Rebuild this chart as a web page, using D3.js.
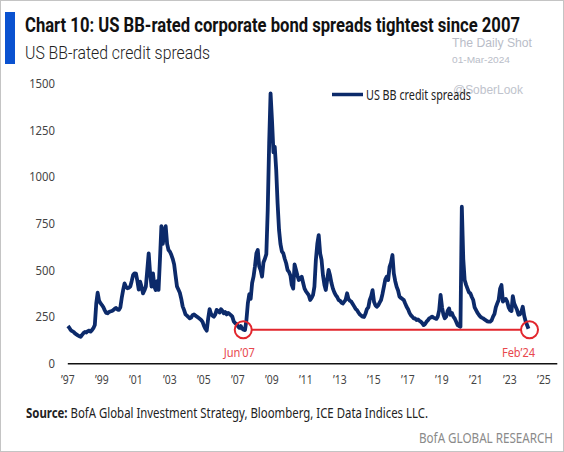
<!DOCTYPE html>
<html><head><meta charset="utf-8">
<script src="https://cdn.jsdelivr.net/npm/d3@7"></script>
<style>body{margin:0;background:#fff;} svg{display:block;}</style>
</head><body>
<svg id="c" width="564" height="452"></svg>
<script>
// ---- data (monthly, mid-month, bp) ----
const startYear = 1997;
const spreads = [
  200,190,178,172,168,160,155,150,145,142,152,162,   // 1997
  168,165,172,175,170,178,188,205,320,378,335,322,   // 1998
  312,300,285,270,268,275,278,280,285,292,296,288,   // 1999
  286,300,350,393,428,410,402,405,411,440,473,482,   // 2000
  480,440,395,437,410,375,390,411,500,589,482,411,   // 2001
  482,410,393,440,393,560,735,640,700,735,640,607,   // 2002
  598,580,560,530,470,412,395,378,345,305,285,262,   // 2003
  255,248,241,245,258,262,255,250,245,238,232,222,   // 2004
  200,185,175,240,290,265,255,250,262,286,280,272,   // 2005
  290,280,268,275,262,270,265,258,250,225,215,210,   // 2006
  198,190,200,185,180,178,230,321,370,345,430,464,   // 2007
  520,590,607,520,500,464,540,560,585,821,1180,1446, // 2008
  1300,1130,1160,1036,857,714,640,600,589,560,536,500, // 2009
  490,470,420,400,530,500,470,446,455,464,430,400,   // 2010
  385,375,365,339,350,366,411,554,640,687,589,554,   // 2011
  470,420,393,450,500,470,430,400,380,365,355,339,   // 2012
  335,325,320,330,340,375,345,335,330,318,305,292,   // 2013
  285,272,262,255,250,248,265,290,300,340,360,392,   // 2014
  330,310,303,310,325,339,370,410,450,464,446,517,   // 2015
  540,580,482,440,410,390,357,350,345,339,320,303,   // 2016
  290,270,258,250,241,240,232,235,228,223,215,205,   // 2017
  210,223,230,241,245,250,245,241,238,250,285,366,   // 2018
  300,260,241,250,280,294,260,270,250,240,223,205,   // 2019
  200,196,839,560,446,420,400,380,375,355,339,300,   // 2020
  285,270,260,250,245,241,235,230,225,223,223,230,   // 2021
  250,265,300,321,339,400,419,330,340,345,330,300,   // 2022
  285,280,360,320,303,285,260,262,276,303,255,225,   // 2023
  205,185                                            // 2024
];
const yTicks = [0,250,500,750,1000,1250,1500];
const xTickYears = [1997,1999,2001,2003,2005,2007,2009,2011,2013,2015,2017,2019,2021,2023,2025];
const markerDates = ["2007-05-08","2024-03-08"];
const markerLabels = ["Jun\u201907","Feb\u201924"];
const tightestLevel = 180;
const seriesName = "US BB credit spreads";

// ---- chart ----
const svg = d3.select("#c");
const W = 564, H = 452;
const NAVY = "#0c2a6a", RED = "#e2262d";

svg.append("rect").attr("x",0.5).attr("y",0.5).attr("width",W-1).attr("height",H-1)
  .attr("fill","#fff").attr("stroke","#c4c4c4");

const x = d3.scaleTime().domain([new Date(1997,0,1), new Date(2025,9,15)]).range([67.3, 556.8]);
const y = d3.scaleLinear().domain([0,1500]).range([363.3, 83.3]);

function condense(sel, f){
  sel.each(function(){
    const n = this.getComputedTextLength();
    d3.select(this).attr("textLength", n*f).attr("lengthAdjust","spacingAndGlyphs");
  });
}
function fitTo(sel, w){
  sel.attr("textLength", w).attr("lengthAdjust","spacingAndGlyphs");
}

// title bar
svg.append("rect").attr("x",5).attr("y",12).attr("width",10).attr("height",52).attr("fill","#0a52d0");
svg.append("text").attr("x",25).attr("y",32.3)
  .style("font-family","Roboto, 'Noto Sans', sans-serif").style("font-weight",700).style("font-size","19.5px")
  .attr("fill","#111").text("Chart 10: US BB-rated corporate bond spreads tightest since 2007")
  .call(fitTo, 495);
svg.append("text").attr("x",25).attr("y",59.4)
  .style("font-family","Roboto, 'Noto Sans', sans-serif").style("font-weight",300).style("font-size","18.5px")
  .attr("fill","#222").text("US BB-rated credit spreads")
  .call(fitTo, 185);

// watermarks
const wm = svg.append("g").style("font-family","'Liberation Sans', Arial, sans-serif").attr("fill","#b9bdc8");
wm.append("text").attr("x",452).attr("y",47).style("font-size","12.6px").text("The Daily Shot").call(fitTo,80);
wm.append("text").attr("x",452).attr("y",63.3).style("font-size","9.3px").text("01-Mar-2024").call(fitTo,58);

// axes
const xAxis = svg.append("g").attr("transform",`translate(0,${y(0)})`)
  .call(d3.axisBottom(x).tickValues(xTickYears.map(v=>new Date(v,0,1)))
    .tickFormat(d=>"\u2019"+String(d.getFullYear()).slice(2)).tickSize(0).tickSizeOuter(0).tickPadding(11.5));
xAxis.select(".domain").attr("stroke","#111").attr("stroke-width",1.6);
xAxis.selectAll(".tick line").remove();
xAxis.selectAll("text").style("font-family","'Noto Sans', sans-serif").style("font-size","13px").attr("fill","#444")
  .call(condense, 0.8);

const yAxis = svg.append("g").attr("transform",`translate(${x(new Date(1997,0,1))},0)`)
  .call(d3.axisLeft(y).tickValues(yTicks).tickFormat(d3.format("d")).tickSize(0).tickPadding(12.3));
yAxis.select(".domain").remove();
yAxis.selectAll(".tick line").remove();
yAxis.selectAll("text").style("font-family","'Noto Sans', sans-serif").style("font-size","13px").attr("fill","#444")
  .call(condense, 0.87);

// series
const data = spreads.map((v,i)=>({date:new Date(startYear, i, 15), v}));
svg.append("path").datum(data)
  .attr("fill","none").attr("stroke",NAVY).attr("stroke-width",3.8).attr("stroke-linejoin","round")
  .attr("d", d3.line().x(d=>x(d.date)).y(d=>y(d.v)));

// tightest-level annotation
const mk = markerDates.map(s=>new Date(s));
const r = 8.5;
svg.append("line").attr("x1",x(mk[0])+r).attr("x2",x(mk[1])-r)
  .attr("y1",y(tightestLevel)).attr("y2",y(tightestLevel)).attr("stroke",RED).attr("stroke-width",2);
svg.selectAll("circle.mk").data(mk).join("circle").attr("class","mk")
  .attr("cx",d=>x(d)).attr("cy",y(tightestLevel)).attr("r",r)
  .attr("fill","none").attr("stroke",RED).attr("stroke-width",2);
const labelDx = [-4,-11];
svg.selectAll("text.mkl").data(mk).join("text").attr("class","mkl")
  .attr("x",(d,i)=>x(d)+labelDx[i]).attr("y",356.7).attr("text-anchor","middle")
  .style("font-family","'Noto Sans', sans-serif").style("font-size","13px").attr("fill","#e8474d")
  .text((d,i)=>markerLabels[i]).call(condense, 0.85);

// legend
svg.append("line").attr("x1",332).attr("x2",363).attr("y1",94.5).attr("y2",94.5)
  .attr("stroke",NAVY).attr("stroke-width",3.5);
svg.append("text").attr("x",366).attr("y",99.5)
  .style("font-family","'Noto Sans', sans-serif").style("font-size","13.5px").attr("fill","#222")
  .text(seriesName).call(fitTo,105);
wm.append("text").attr("x",453).attr("y",94).style("font-size","12.8px").attr("fill","#b9bdc8").attr("opacity",0.9)
  .text("@SoberLook").call(fitTo,70);

// footer
const src = svg.append("text").attr("x",26).attr("y",417.7)
  .style("font-family","'Noto Sans', sans-serif").style("font-size","13.5px").attr("fill","#222");
src.append("tspan").style("font-weight",700).text("Source:");
src.append("tspan").text(" BofA Global Investment Strategy, Bloomberg, ICE Data Indices LLC.");
src.call(fitTo, 402);
svg.append("text").attr("x",419).attr("y",442.5)
  .style("font-family","'Noto Sans', sans-serif").style("font-size","13.5px").attr("fill","#8a8a8a")
  .text("BofA GLOBAL RESEARCH").call(fitTo,134);
</script>
</body></html>
